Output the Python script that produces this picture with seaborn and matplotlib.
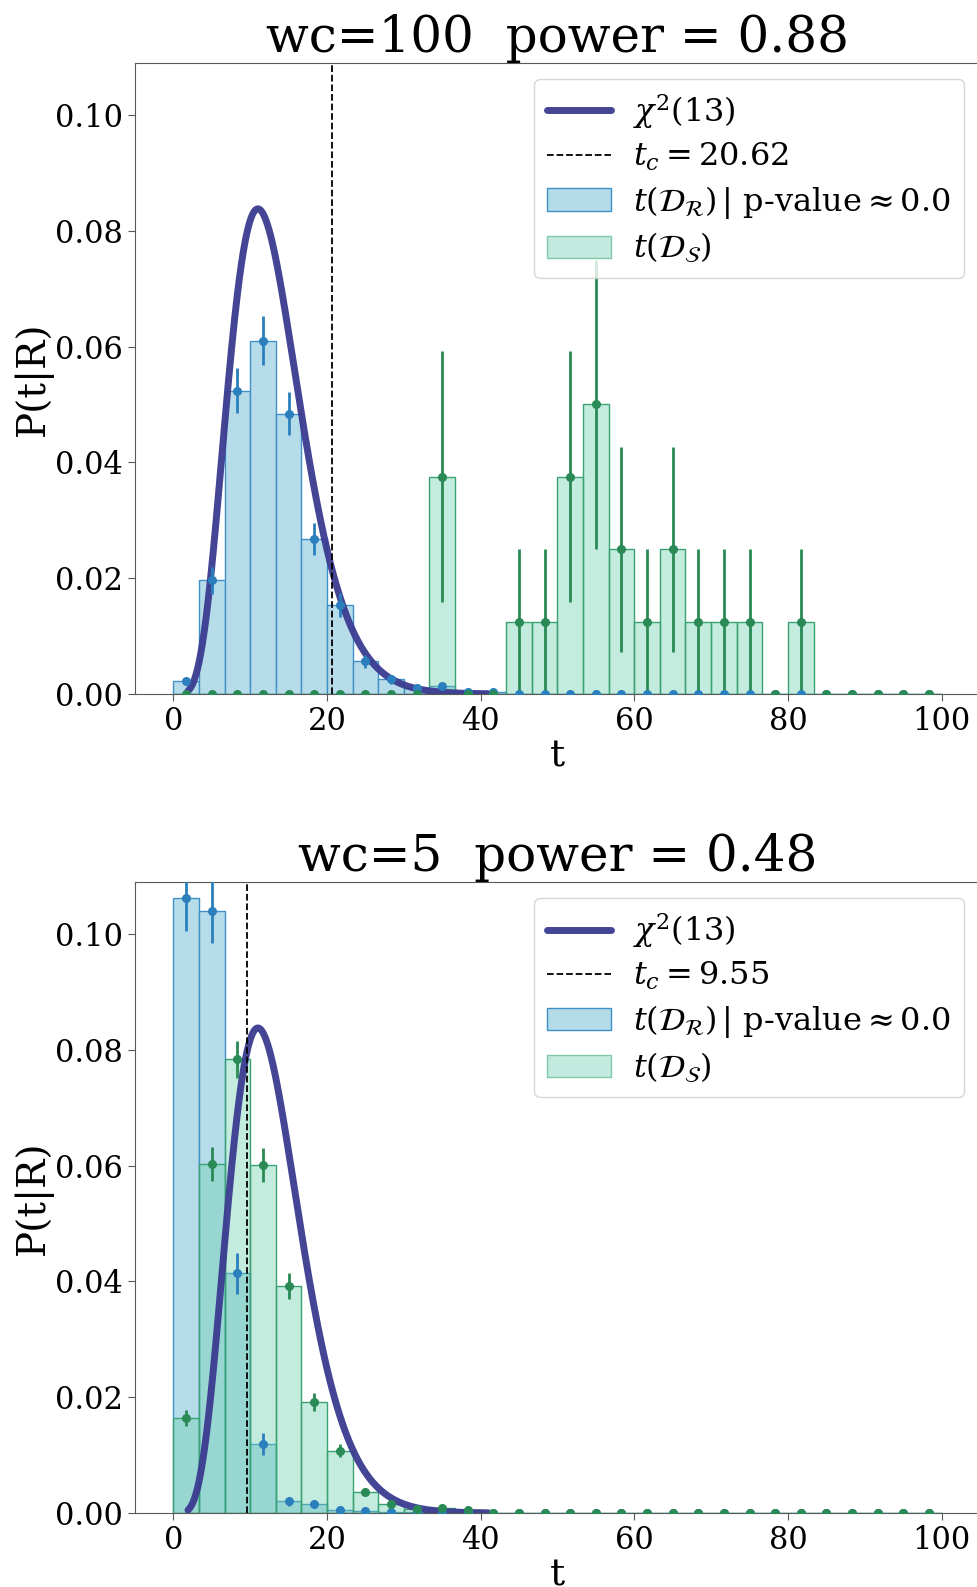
import math
import numpy as np
import pandas as pd
import seaborn as sns
from matplotlib import pyplot as plt
from matplotlib.patches import Patch
from matplotlib.lines import Line2D

# histogram binning of the test statistic t: 30 bins over [0, 100]
n_bins = 30
t_range = (0, 100)
dof = 13
# range over which the chi2 reference curve is drawn
curve_range = (1.9, 41.0)

# top panel: wc=100
top_title = 'wc=100  power = 0.88'
top_tc = 20.62
top_ref = [0.0022, 0.0196, 0.0524, 0.0610, 0.0484, 0.0268, 0.0154, 0.0056, 0.0025, 0.0010,
           0.0013, 0.0004, 0.0003, 0, 0, 0, 0, 0, 0, 0,
           0, 0, 0, 0, 0, 0, 0, 0, 0, 0]
top_ref_err = [0.0007, 0.0024, 0.0039, 0.0042, 0.0037, 0.0028, 0.0021, 0.0012, 0.0008, 0.0005,
               0.0006, 0.0003, 0.0003, 0, 0, 0, 0, 0, 0, 0,
               0, 0, 0, 0, 0, 0, 0, 0, 0, 0]
top_sig = [0, 0, 0, 0, 0, 0, 0, 0, 0, 0,
           0.0375, 0, 0, 0.0125, 0.0125, 0.0375, 0.05, 0.025, 0.0125, 0.025,
           0.0125, 0.0125, 0.0125, 0, 0.0125, 0, 0, 0, 0, 0]
top_sig_err = [0, 0, 0, 0, 0, 0, 0, 0, 0, 0,
               0.0217, 0, 0, 0.0125, 0.0125, 0.0217, 0.025, 0.0177, 0.0125, 0.0177,
               0.0125, 0.0125, 0.0125, 0, 0.0125, 0, 0, 0, 0, 0]

# bottom panel: wc=5
bot_title = 'wc=5  power = 0.48'
bot_tc = 9.55
bot_ref = [0.1062, 0.1040, 0.0414, 0.0119, 0.0020, 0.0015, 0.0005, 0.0004, 0.0002, 0.0001,
           0, 0, 0, 0, 0, 0, 0, 0, 0, 0,
           0, 0, 0, 0, 0, 0, 0, 0, 0, 0]
bot_ref_err = [0.0056, 0.0055, 0.0035, 0.0019, 0.0008, 0.0007, 0.0004, 0.0003, 0.0002, 0.0001,
               0, 0, 0, 0, 0, 0, 0, 0, 0, 0,
               0, 0, 0, 0, 0, 0, 0, 0, 0, 0]
bot_sig = [0.0164, 0.0603, 0.0784, 0.0601, 0.0392, 0.0192, 0.0108, 0.0036, 0.0016, 0.0007,
           0.0009, 0.0005, 0, 0, 0, 0, 0, 0, 0, 0,
           0, 0, 0, 0, 0, 0, 0, 0, 0, 0]
bot_sig_err = [0.0014, 0.0029, 0.0032, 0.0029, 0.0023, 0.0016, 0.0012, 0.0007, 0.0005, 0.0003,
               0.0003, 0.0002, 0, 0, 0, 0, 0, 0, 0, 0,
               0, 0, 0, 0, 0, 0, 0, 0, 0, 0]

sns.set_style('ticks')
plt.rcParams['font.family'] = ['DejaVu Serif']
plt.rcParams['mathtext.fontset'] = 'dejavuserif'
plt.rcParams['axes.edgecolor'] = '0.35'
plt.rcParams['xtick.color'] = '0.35'
plt.rcParams['ytick.color'] = '0.35'
plt.rcParams['xtick.labelcolor'] = 'black'
plt.rcParams['ytick.labelcolor'] = 'black'
plt.rcParams['text.color'] = 'black'
plt.rcParams['axes.labelcolor'] = 'black'

ref_fill = '#b3dbe8'
ref_edge = '#3f90c8'
sig_fill = 'mediumaquamarine'
sig_edge = '#3aa374'
ref_pt = '#2b7fbd'
sig_pt = '#2a8a55'
curve_col = '#3b3b90'

bin_w = (t_range[1] - t_range[0]) / n_bins
centers = t_range[0] + bin_w * (np.arange(n_bins) + 0.5)
t_grid = np.linspace(curve_range[0], curve_range[1], 800)
chi2_pdf = np.exp((dof / 2 - 1) * np.log(t_grid) - t_grid / 2
                  - (dof / 2) * math.log(2) - math.lgamma(dof / 2))


def draw_panel(ax, title, tc, ref, ref_err, sig, sig_err):
    df = pd.DataFrame({'t': centers, 'ref': ref, 'sig': sig})
    sns.histplot(data=df, x='t', weights='ref', binwidth=bin_w, binrange=t_range, ax=ax,
                 color=ref_fill, edgecolor=ref_edge, alpha=0.95, linewidth=1.0)
    sns.histplot(data=df, x='t', weights='sig', binwidth=bin_w, binrange=t_range, ax=ax,
                 color=sig_fill, edgecolor=sig_edge, alpha=0.38, linewidth=1.0)
    sns.lineplot(x=t_grid, y=chi2_pdf, ax=ax, color=curve_col, linewidth=5, alpha=0.95)
    ax.axvline(tc, color='black', linestyle='--', linewidth=1.3)
    ax.errorbar(centers, ref, yerr=ref_err, fmt='o', color=ref_pt, markersize=5.5,
                elinewidth=2, capsize=0, zorder=5)
    ax.errorbar(centers, sig, yerr=sig_err, fmt='o', color=sig_pt, markersize=5.5,
                elinewidth=2, capsize=0, zorder=5)

    ax.set_xlim(-5, 105)
    ax.set_ylim(0, 0.109)
    ax.set_yticks([0, 0.02, 0.04, 0.06, 0.08, 0.10])
    ax.set_xticks([0, 20, 40, 60, 80, 100])
    ax.tick_params(labelsize=22, length=5)
    ax.set_xlabel('t', fontsize=27, labelpad=1)
    ax.set_ylabel('P(t|R)', fontsize=28, labelpad=2)
    ax.set_title(title, fontsize=36, pad=5)

    handles = [
        Line2D([0], [0], color=curve_col, linewidth=5, alpha=0.95),
        Line2D([0], [0], color='black', linestyle='--', linewidth=1.3),
        Patch(facecolor=ref_fill, edgecolor=ref_edge),
        Patch(facecolor='#c4e9de', edgecolor='#7fc9a7'),
    ]
    labels = [
        r'$\chi^2(13)$',
        r'$t_c = %.2f$' % tc,
        r'$t(\mathcal{D}_\mathcal{R})\,|$ p-value$\approx$0.0',
        r'$t(\mathcal{D}_\mathcal{S})$',
    ]
    ax.legend(handles, labels, loc='upper right', fontsize=23, borderaxespad=0.5,
              labelspacing=0.33, handletextpad=0.7)


fig, axes = plt.subplots(2, 1, figsize=(9.78, 15.87), dpi=100)
plt.subplots_adjust(left=0.138, right=1.002, top=0.9604, bottom=0.0466, hspace=0.298)

draw_panel(axes[0], top_title, top_tc, top_ref, top_ref_err, top_sig, top_sig_err)
draw_panel(axes[1], bot_title, bot_tc, bot_ref, bot_ref_err, bot_sig, bot_sig_err)

plt.savefig('out.png', dpi=100)
